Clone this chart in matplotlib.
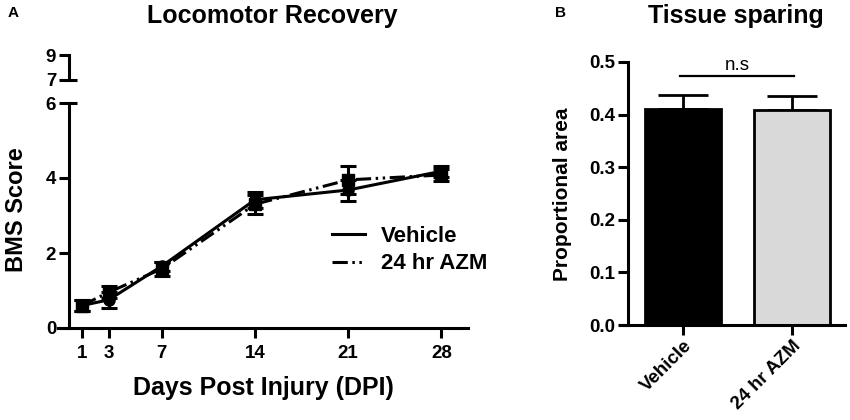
import matplotlib.pyplot as plt
from matplotlib.lines import Line2D
import numpy as np

plt.rcParams['font.family'] = ['Liberation Sans', 'DejaVu Sans']

# Panel A: locomotor recovery (BMS score)
days = [1, 3, 7, 14, 21, 28]
vehicle_mean = [0.60, 0.75, 1.65, 3.42, 3.68, 4.18]
vehicle_sem = [0.14, 0.21, 0.12, 0.22, 0.28, 0.14]
azm_mean = [0.60, 0.95, 1.58, 3.30, 3.95, 4.08]
azm_sem = [0.14, 0.16, 0.19, 0.25, 0.38, 0.16]

# Panel B: tissue sparing
groups = ['Vehicle', '24 hr AZM']
area_mean = [0.410, 0.408]
area_sem = [0.028, 0.027]
bar_colors = ['black', '#d9d9d9']

LW = 2.2
TICK_FS = 13.5
AZM_LS = (0, (5, 1.5, 0.8, 1.5, 0.8, 1.5))  # dash-dot-dot
W, H = 850, 420

fig = plt.figure(figsize=(8.5, 4.2), dpi=100)


def px_axes(x0, x1, ytop, ybot):
    return fig.add_axes([x0 / W, 1 - ybot / H, (x1 - x0) / W, (ybot - ytop) / H])


def style(ax, pad=2):
    for s in ['top', 'right']:
        ax.spines[s].set_visible(False)
    for s in ['left', 'bottom']:
        ax.spines[s].set_linewidth(LW)
    ax.tick_params(width=LW, length=7, labelsize=TICK_FS, pad=pad)
    for lab in ax.get_xticklabels() + ax.get_yticklabels():
        lab.set_fontweight('bold')


# ---- Panel A ----
ax = px_axes(58, 468, 103, 328)
ax.errorbar(days, vehicle_mean, yerr=vehicle_sem, color='black', lw=LW,
            marker='o', ms=8, capsize=6, capthick=LW, elinewidth=LW,
            clip_on=False, zorder=3)
ax.errorbar(days, azm_mean, yerr=azm_sem, color='black', lw=LW, ls=AZM_LS,
            marker='s', ms=8, capsize=6, capthick=LW, elinewidth=LW,
            clip_on=False, zorder=3)
ax.set_xlim(-0.8, 30)
ax.set_ylim(0, 6)
ax.spines['left'].set_position(('data', 0))
ax.set_xticks(days)
ax.set_yticks([0, 2, 4, 6])
style(ax)
ax.tick_params(axis='x', pad=5)
ax.set_xlabel('Days Post Injury (DPI)', fontsize=18, fontweight='bold', labelpad=10)
fig.text(17 / W, 1 - 210 / H, 'BMS Score', rotation=90,
         fontsize=17, fontweight='bold', ha='center', va='center')
handles = [Line2D([], [], color='black', lw=LW, ls='-'),
           Line2D([], [], color='black', lw=LW, ls=AZM_LS)]
fig.legend(handles, ['Vehicle', '24 hr AZM'], loc='center left',
           bbox_to_anchor=(332 / W, 1 - 250 / H), frameon=False,
           handlelength=1.5, handletextpad=0.7, borderpad=0, borderaxespad=0,
           prop={'weight': 'bold', 'size': 16}, labelspacing=0.3)
# break cap at top of lower segment
ax.plot([0, 0.6], [6, 6], color='black', lw=LW, clip_on=False,
        solid_capstyle='butt')

# upper broken segment of y axis
ax2 = px_axes(58, 468, 55, 80)
ax2.set_xlim(-0.8, 30)
ax2.set_ylim(7, 9)
for s in ['top', 'right', 'bottom']:
    ax2.spines[s].set_visible(False)
ax2.spines['left'].set_position(('data', 0))
ax2.set_xticks([])
ax2.set_yticks([7, 9])
ax2.patch.set_alpha(0)
style(ax2)
ax2.plot([0, 0.6], [7, 7], color='black', lw=LW, clip_on=False,
         solid_capstyle='butt')

fig.text(272 / W, 1 - 16 / H, 'Locomotor Recovery', fontsize=18,
         fontweight='bold', ha='center', va='center')
fig.text(13 / W, 1 - 13 / H, 'A', fontsize=11, fontweight='bold',
         ha='center', va='center')

# ---- Panel B ----
bx = px_axes(620, 845, 62, 325)
xpos = np.arange(len(groups))
bx.bar(xpos, area_mean, width=0.7, color=bar_colors, edgecolor='black',
       linewidth=2, zorder=2)
bx.errorbar(xpos, area_mean, yerr=[np.zeros(len(groups)), area_sem],
            fmt='none', ecolor='black', elinewidth=2, capsize=18,
            capthick=2, zorder=1)
bx.set_xlim(-0.58, 1.49)
bx.set_ylim(0, 0.5)
bx.spines['left'].set_position(('data', -0.505))
bx.set_yticks(np.arange(0, 0.51, 0.1))
bx.set_yticklabels([f'{v:.1f}' for v in np.arange(0, 0.51, 0.1)])
bx.set_xticks(xpos)
bx.set_xticklabels(groups, rotation=45, ha='right', rotation_mode='anchor')
style(bx)
fig.text(562 / W, 1 - 194 / H, 'Proportional area', rotation=90,
         fontsize=15, fontweight='bold', ha='center', va='center')
bx.plot([-0.03, 1.02], [0.473, 0.473], color='black', lw=1.6)
bx.text(0.5, 0.477, 'n.s', ha='center', va='bottom', fontsize=13.5)

fig.text(736 / W, 1 - 16 / H, 'Tissue sparing', fontsize=18,
         fontweight='bold', ha='center', va='center')
fig.text(561 / W, 1 - 13 / H, 'B', fontsize=11, fontweight='bold',
         ha='center', va='center')

fig.savefig('out.png', dpi=100)
